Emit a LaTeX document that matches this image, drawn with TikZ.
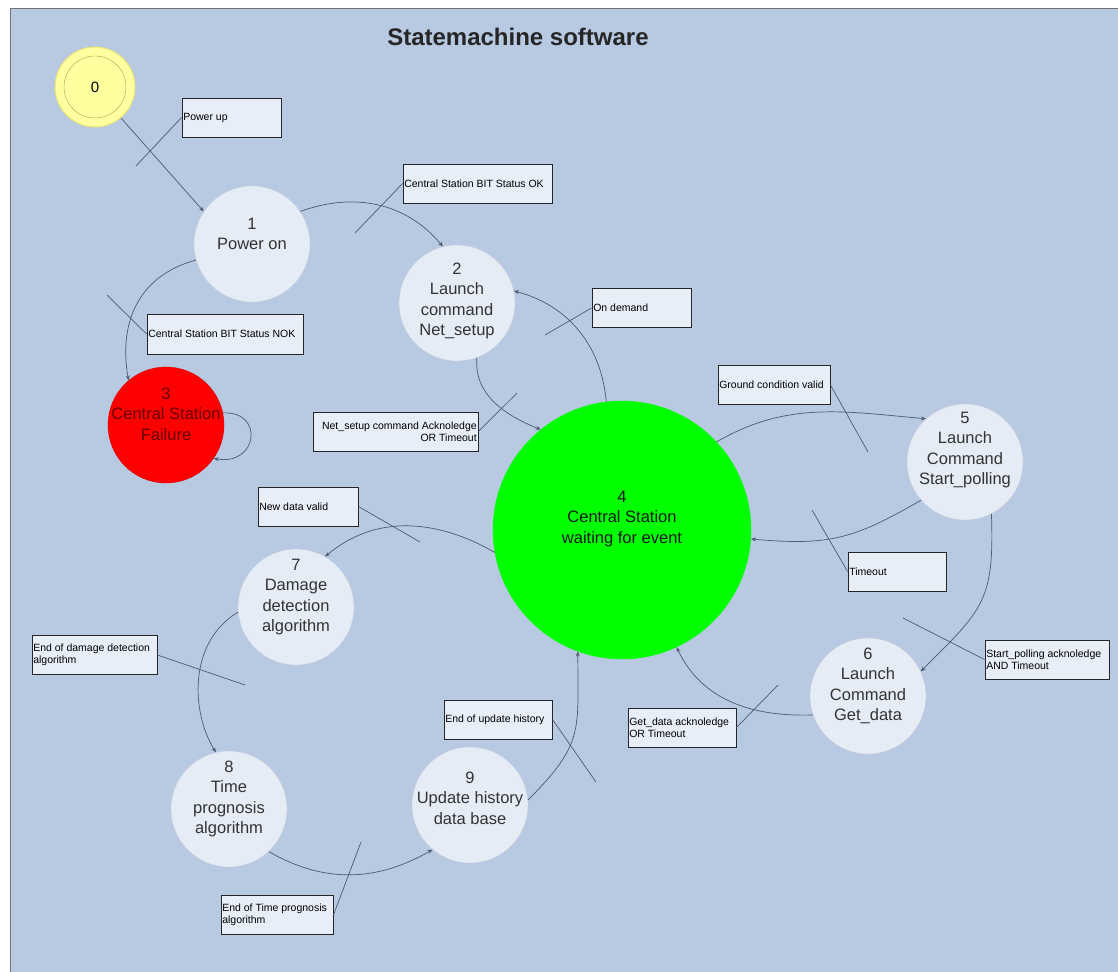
\documentclass[tikz,border=0pt]{standalone}
\usepackage{fontspec}
\setmainfont{Liberation Sans}
\usetikzlibrary{arrows.meta}

\definecolor{bgblue}{RGB}{184,201,226}
\definecolor{statefill}{RGB}{230,236,246}
\definecolor{stateline}{RGB}{200,206,220}
\definecolor{boxfill}{RGB}{232,238,248}
\definecolor{wireline}{RGB}{80,88,108}
\definecolor{startyellow}{RGB}{255,255,160}
\definecolor{startline}{RGB}{236,226,120}
\definecolor{failred}{RGB}{255,0,0}
\definecolor{failtext}{RGB}{100,0,0}
\definecolor{waitgreen}{RGB}{0,255,0}

\begin{document}
\begin{tikzpicture}[x=1pt, y=1pt,
    statenode/.style={circle, draw=stateline, fill=statefill, minimum size=116, inner sep=0pt},
    statetext/.style={align=center, font=\fontsize{16.5}{20.5}\selectfont, text=black!80},
    cond/.style={draw=black!85, line width=0.9pt, fill=boxfill, minimum height=39, inner sep=0pt},
    condtext/.style={font=\fontsize{10.5}{12.5}\selectfont, inner sep=1.5pt, align=left, anchor=west},
    trans/.style={draw=wireline, line width=0.7pt, -{Stealth[length=5pt, width=4pt]}},
    leader/.style={draw=wireline, line width=0.7pt}
  ]
    \useasboundingbox (0,0) rectangle (1118,-971);
    % Background sheet
    \draw[fill=bgblue, draw=black!55, line width=1pt] (10,-9) rectangle (1130,-985);
    \node[font=\bfseries\fontsize{24}{28}\selectfont, text=black!85] (title) at (518,-37) {Statemachine software};

    % States
    \node[circle, fill=startyellow, draw=startline, line width=1pt, minimum size=80,
          font=\fontsize{15}{18}\selectfont] (s0) at (95,-87) {0};
    \draw[draw=black!30!startline] (s0) circle (31);

    \node[statenode] (s1) at (252,-244) {};
    \node[statetext] (t1) at ([yshift=10]s1.center) {1\\Power on};
    \node[statenode] (s2) at (457,-303) {};
    \node[statetext] (t2) at ([yshift=2]s2.center) {2\\Launch\\command\\Net\_setup};
    \node[statenode, fill=failred, draw=red!85!black] (s3) at (166,-425) {};
    \node[statetext, text=failtext] (t3) at ([yshift=11]s3.center) {3\\Central Station\\Failure};
    \node[statenode, fill=waitgreen, draw=waitgreen, minimum size=258] (s4) at (622,-530) {};
    \node[statetext, text=black!90] (t4) at ([yshift=11]s4.center) {4\\Central Station\\waiting for event};
    \node[statenode] (s5) at (965,-462) {};
    \node[statetext] (t5) at ([yshift=12]s5.center) {5\\Launch\\Command\\Start\_polling};
    \node[statenode] (s6) at (868,-696) {};
    \node[statetext] (t6) at ([yshift=10]s6.center) {6\\Launch\\Command\\Get\_data};
    \node[statenode] (s7) at (296,-607) {};
    \node[statetext] (t7) at ([yshift=10]s7.center) {7\\Damage\\detection\\algorithm};
    \node[statenode] (s8) at (229,-809) {};
    \node[statetext] (t8) at ([yshift=10]s8.center) {8\\Time\\prognosis\\algorithm};
    \node[statenode] (s9) at (470,-805) {};
    \node[statetext] (t9) at ([yshift=7]s9.center) {9\\Update history\\data base};

    % Conditions
    \node[cond, minimum width=99, label={[condtext]west:Power up}] (pu) at (231.5,-117.5) {};
    \node[cond, minimum width=149, label={[condtext]west:Central Station BIT Status OK}] (ok) at (477.5,-183.5) {};
    \node[cond, minimum width=156, minimum height=40, label={[condtext]west:Central Station BIT Status NOK}] (nok) at (225,-334) {};
    \node[cond, minimum width=165, label={[condtext, align=right, anchor=east]east:Net\_setup command Acknoledge\\OR Timeout}] (ns) at (395.5,-431.5) {};
    \node[cond, minimum width=99, label={[condtext]west:On demand}] (od) at (641.5,-308) {};
    \node[cond, minimum width=112, label={[condtext]west:Ground condition valid}] (gc) at (774,-385) {};
    \node[cond, minimum width=98, label={[condtext]west:Timeout}] (tmo) at (897,-571.5) {};
    \node[cond, minimum width=124, label={[condtext]west:Start\_polling acknoledge\\AND Timeout}] (sp) at (1047,-659.5) {};
    \node[cond, minimum width=108, label={[condtext]west:Get\_data acknoledge\\OR Timeout}] (gd) at (682,-727.5) {};
    \node[cond, minimum width=100, label={[condtext]west:New data valid}] (nd) at (308,-506.5) {};
    \node[cond, minimum width=125, label={[condtext]west:End of damage detection\\algorithm}] (ed) at (94.5,-655) {};
    \node[cond, minimum width=108, label={[condtext]west:End of update history}] (eu) at (498,-719.5) {};
    \node[cond, minimum width=112, label={[condtext]west:End of Time prognosis\\algorithm}] (et) at (277,-915) {};

    % Transitions
    \draw[trans] (s0.-50) -- (s1.146);
    \draw[trans] (s1.34) to[out=20, in=130] (s2.104);
    \draw[trans] (s1.196) to[out=195, in=100, looseness=1.1] (s3.130);
    \draw[trans] (s3.12) .. controls +(42,2) and +(44,-8) .. (s3.-35);
    \draw[trans] (s2.-70) to[out=-95, in=158] (s4.129);
    \draw[trans] (s4.97) to[out=95, in=-15] (s2.12);
    \draw[trans] (s4.43) to[out=30, in=175] (s5.132);
    \draw[trans] (s5.221) to[out=210, in=-5, looseness=1.15] (s4.-4);
    \draw[trans] (s5.-63) to[out=-88, in=45, looseness=1.3] (s6.25);
    \draw[trans] (s6.199) to[out=182, in=-65] (s4.-65);
    \draw[trans] (s4.190) to[out=150, in=40] (s7.60);
    \draw[trans] (s7.185) .. controls +(-50,-30) and +(-25,40) .. (s8.103);
    \draw[trans] (s8.-47) to[out=-30, in=210] (s9.230);
    \draw[trans] (s9.5) to[out=45, in=-90, looseness=1.3] (s4.250);

    % Leaders from conditions
    \coordinate (puX) at (136,-166);
    \coordinate (okX) at (355,-233);
    \coordinate (nokX) at (107,-295);
    \coordinate (nsX) at (517,-393);
    \coordinate (odX) at (545,-335);
    \coordinate (gcX) at (868,-452);
    \coordinate (tmoX) at (812,-510);
    \coordinate (spX) at (903,-618);
    \coordinate (gdX) at (778,-685);
    \coordinate (ndX) at (420,-542);
    \coordinate (edX) at (245,-685);
    \coordinate (euX) at (596,-782);
    \coordinate (etX) at (361,-842);
    \draw[leader] (pu.west) -- (puX);
    \draw[leader] (ok.west) -- (okX);
    \draw[leader] (nok.west) -- (nokX);
    \draw[leader] (ns.east) -- (nsX);
    \draw[leader] (od.west) -- (odX);
    \draw[leader] (gc.east) -- (gcX);
    \draw[leader] (tmo.west) -- (tmoX);
    \draw[leader] (sp.west) -- (spX);
    \draw[leader] (gd.east) -- (gdX);
    \draw[leader] (nd.east) -- (ndX);
    \draw[leader] (ed.east) -- (edX);
    \draw[leader] (eu.east) -- (euX);
    \draw[leader] (et.east) -- (etX);
\end{tikzpicture}
\end{document}
